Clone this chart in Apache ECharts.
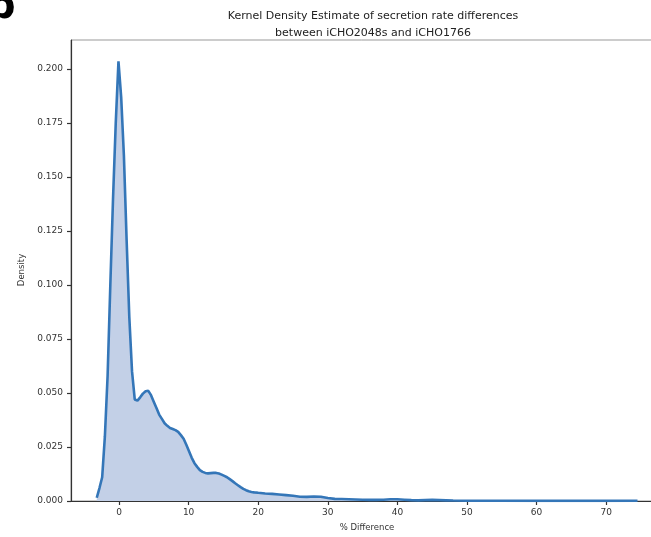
<!DOCTYPE html>
<html>
<head>
<meta charset="utf-8">
<script src="https://cdn.jsdelivr.net/npm/echarts@6/dist/echarts.min.js"></script>
<style>html,body{margin:0;padding:0;background:#fff}#c{width:651px;height:537px}</style>
</head>
<body>
<div id="c"></div>
<script>
// % difference grid (x) and estimated density (y)
const pctDiff = [-3.2,-2.81,-2.42,-2.03,-1.64,-1.25,-0.86,-0.47,-0.08,0.31,0.70,1.09,1.48,1.87,2.26,2.65,3.04,3.43,3.82,4.21,4.6,4.99,5.38,5.77,6.16,6.55,6.94,7.33,7.72,8.11,8.5,8.89,9.28,9.67,10.06,10.45,10.84,11.23,11.62,12.01,12.4,12.79,13.18,13.57,13.96,14.35,14.74,15.13,15.52,15.91,16.3,16.69,17.08,17.47,17.86,18.25,18.64,19.03,19.42,20,21,22,23,24,25,26,27,28,29,30,31,32,33,34,35,36,37,38,39,40,41,42,43,44,45,46,47,48,50,55,60,65,70,74.5];
const density = [0.0015,0.006,0.011,0.03,0.058,0.10,0.14,0.175,0.2035,0.187,0.16,0.121,0.085,0.06,0.047,0.0465,0.048,0.0497,0.0508,0.051,0.049,0.046,0.043,0.040,0.038,0.036,0.0348,0.0338,0.0333,0.0328,0.032,0.0305,0.0288,0.026,0.023,0.020,0.0175,0.0158,0.0143,0.0135,0.013,0.0128,0.0129,0.013,0.013,0.0127,0.0122,0.0116,0.011,0.0101,0.0092,0.0082,0.0073,0.0064,0.0056,0.005,0.0045,0.0042,0.004,0.0038,0.0035,0.0033,0.003,0.0027,0.0024,0.002,0.0019,0.0021,0.002,0.0014,0.001,0.0009,0.0008,0.0007,0.0006,0.0005,0.0005,0.0006,0.0008,0.0008,0.0006,0.0004,0.0003,0.0004,0.0005,0.0004,0.0003,0.0002,0.0001,0.0001,0.00005,0.00005,0.00005,0.0001];
const xTicks = [0,10,20,30,40,50,60,70];
const yTicks = [0,0.025,0.05,0.075,0.1,0.125,0.15,0.175,0.2];
const titleText = 'Kernel Density Estimate of secretion rate differences\nbetween iCHO2048s and iCHO1766';

const FONT = 'DejaVu Sans';
const chart = echarts.init(document.getElementById('c'), null, {renderer: 'canvas'});
chart.setOption({
  animation: false,
  backgroundColor: '#fff',
  title: {
    text: titleText, left: 368, top: 3, textAlign: 'center',
    textStyle: {fontFamily: FONT, fontSize: 11, fontWeight: 'normal', color: '#222', lineHeight: 17}
  },
  grid: {left: 71, top: 40, width: 594, height: 461, outerBoundsMode: 'none', containLabel: false,
    show: true, borderColor: '#999', borderWidth: 1, backgroundColor: 'transparent'},
  xAxis: {
    type: 'value', min: -6.9, max: 78.45,
    splitLine: {show: false},
    axisLine: {show: true, onZero: false, lineStyle: {color: '#333', width: 1.2}},
    axisTick: {show: true, length: 4, customValues: xTicks, lineStyle: {color: '#333', width: 1.2}},
    axisLabel: {customValues: xTicks, margin: 7, fontFamily: FONT, fontSize: 9, color: '#333'}
  },
  yAxis: {
    type: 'value', min: 0, max: 0.2134,
    splitLine: {show: false},
    axisLine: {show: true, onZero: false, lineStyle: {color: '#333', width: 1.2}},
    axisTick: {show: true, length: 4, customValues: yTicks, lineStyle: {color: '#333', width: 1.2}},
    axisLabel: {customValues: yTicks, margin: 8, fontFamily: FONT, fontSize: 9, color: '#333',
      formatter: v => v.toFixed(3)}
  },
  series: [{
    type: 'line',
    data: pctDiff.map((x, i) => [x, density[i]]),
    showSymbol: false, smooth: false,
    lineStyle: {color: '#3476b8', width: 2.6},
    areaStyle: {color: '#c3d0e7', opacity: 1}
  }],
  graphic: [
    {type: 'text', x: 22, y: 270, rotation: Math.PI / 2,
      style: {text: 'Density', fontFamily: FONT, fontSize: 8.5, fill: '#333', align: 'center', verticalAlign: 'middle'}},
    {type: 'text', x: 367, y: 528,
      style: {text: '% Difference', fontFamily: FONT, fontSize: 8.5, fill: '#333', align: 'center', verticalAlign: 'middle'}},
    {type: 'text', x: -13, y: 8,
      style: {text: 'b', fontFamily: FONT, fontSize: 40, fontWeight: 'bold', fill: '#000', align: 'left', verticalAlign: 'middle'}}
  ]
});
</script>
</body>
</html>
